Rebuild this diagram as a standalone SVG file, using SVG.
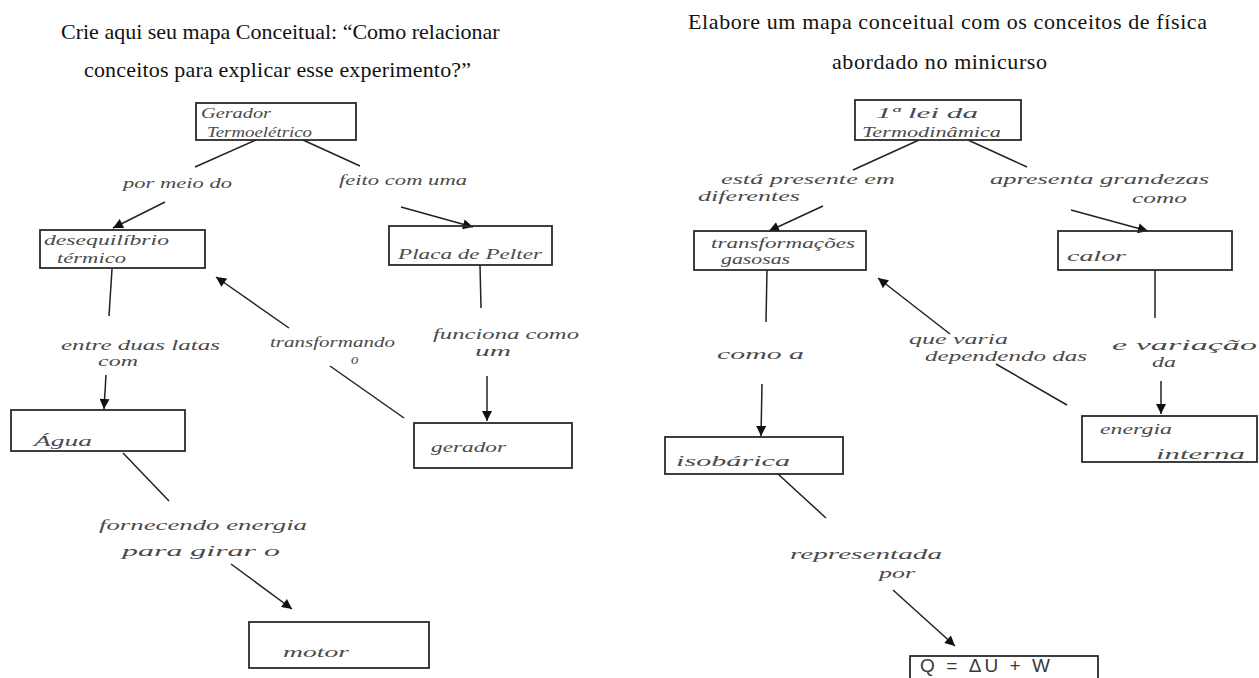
<svg xmlns="http://www.w3.org/2000/svg" width="1259" height="678" viewBox="0 0 1259 678">
<style>
.title{font-family:"Liberation Serif","Times New Roman",serif;font-size:22px;fill:#111;}
.box{fill:none;stroke:#2a2a2a;stroke-width:1.8;}
.hw{font-family:"Liberation Serif",serif;font-style:italic;font-size:15px;fill:#4a4a4a;}
.eq{font-family:"Liberation Sans",sans-serif;font-size:19px;fill:#3a3a3a;}
.ln{stroke:#222;stroke-width:1.5;fill:none;}
.ar{stroke:#222;stroke-width:1.5;fill:none;marker-end:url(#ah);}
</style>
<defs>
<marker id="ah" viewBox="0 0 10 10" refX="10" refY="5" markerWidth="11" markerHeight="10" markerUnits="userSpaceOnUse" orient="auto">
<path d="M0,0 L10,5 L0,10 z" fill="#111"/>
</marker>
</defs>
<rect width="1259" height="678" fill="#fff"/>
<g id="titles">
<text class="title" x="61" y="39">Crie aqui seu mapa Conceitual: “Como relacionar</text>
<text class="title" x="84" y="77" textLength="387" lengthAdjust="spacing">conceitos para explicar esse experimento?”</text>
<text class="title" x="688" y="29" textLength="519" lengthAdjust="spacing">Elabore um mapa conceitual com os conceitos de física</text>
<text class="title" x="832" y="69" textLength="215" lengthAdjust="spacing">abordado no minicurso</text>
</g>
<g id="connectors">
<line class="ln" x1="256" y1="140" x2="195" y2="167"/>
<line class="ln" x1="303" y1="140" x2="360" y2="166"/>
<line class="ar" x1="165" y1="202" x2="113" y2="228"/>
<line class="ar" x1="401" y1="207" x2="473" y2="227"/>
<line class="ln" x1="112" y1="269" x2="109" y2="316"/>
<line class="ar" x1="106" y1="375" x2="104" y2="409"/>
<line class="ln" x1="123" y1="453" x2="169" y2="501"/>
<line class="ar" x1="231" y1="564" x2="292" y2="609"/>
<line class="ln" x1="480" y1="265" x2="481" y2="308"/>
<line class="ar" x1="487" y1="376" x2="487" y2="421"/>
<line class="ln" x1="404" y1="418" x2="330" y2="366"/>
<line class="ar" x1="289" y1="328" x2="216" y2="277"/>
<line class="ln" x1="919" y1="140" x2="853" y2="170"/>
<line class="ln" x1="968" y1="140" x2="1027" y2="167"/>
<line class="ar" x1="823" y1="206" x2="769" y2="231"/>
<line class="ar" x1="1071" y1="210" x2="1148" y2="231"/>
<line class="ln" x1="767" y1="270" x2="766" y2="322"/>
<line class="ar" x1="762" y1="384" x2="761" y2="436"/>
<line class="ln" x1="778" y1="474" x2="826" y2="518"/>
<line class="ar" x1="893" y1="590" x2="955" y2="646"/>
<line class="ln" x1="1155" y1="270" x2="1155" y2="318"/>
<line class="ar" x1="1161" y1="381" x2="1161" y2="414"/>
<line class="ln" x1="1067" y1="405" x2="996" y2="364"/>
<line class="ar" x1="950" y1="334" x2="878" y2="278"/>
<g id="labels">
<text class="hw" x="123" y="188" textLength="109" lengthAdjust="spacingAndGlyphs">por meio do</text>
<text class="hw" x="339" y="185" textLength="128" lengthAdjust="spacingAndGlyphs">feito com uma</text>
<text class="hw" x="61" y="350" textLength="159" lengthAdjust="spacingAndGlyphs">entre duas latas</text>
<text class="hw" x="98" y="366" textLength="40" lengthAdjust="spacingAndGlyphs">com</text>
<text class="hw" x="99" y="530" textLength="208" lengthAdjust="spacingAndGlyphs">fornecendo energia</text>
<text class="hw" x="122" y="556" textLength="158" lengthAdjust="spacingAndGlyphs">para girar o</text>
<text class="hw" x="433" y="339" textLength="146" lengthAdjust="spacingAndGlyphs">funciona como</text>
<text class="hw" x="475" y="356" textLength="36" lengthAdjust="spacingAndGlyphs">um</text>
<text class="hw" x="270" y="347" textLength="125" lengthAdjust="spacingAndGlyphs">transformando</text>
<text class="hw" x="351" y="364">o</text>
<text class="hw" x="721" y="184" textLength="174" lengthAdjust="spacingAndGlyphs">está presente em</text>
<text class="hw" x="698" y="201" textLength="102" lengthAdjust="spacingAndGlyphs">diferentes</text>
<text class="hw" x="990" y="184" textLength="219" lengthAdjust="spacingAndGlyphs">apresenta grandezas</text>
<text class="hw" x="1132" y="203" textLength="55" lengthAdjust="spacingAndGlyphs">como</text>
<text class="hw" x="717" y="359" textLength="87" lengthAdjust="spacingAndGlyphs">como a</text>
<text class="hw" x="790" y="559" textLength="152" lengthAdjust="spacingAndGlyphs">representada</text>
<text class="hw" x="879" y="578" textLength="36" lengthAdjust="spacingAndGlyphs">por</text>
<text class="hw" x="1112" y="350" textLength="145" lengthAdjust="spacingAndGlyphs">e variação</text>
<text class="hw" x="1152" y="367" textLength="24" lengthAdjust="spacingAndGlyphs">da</text>
<text class="hw" x="909" y="344" textLength="99" lengthAdjust="spacingAndGlyphs">que varia</text>
<text class="hw" x="925" y="361" textLength="162" lengthAdjust="spacingAndGlyphs">dependendo das</text>
</g>
</g>
<g id="n-gerador-termoeletrico">
<rect class="box" x="196" y="103" width="160" height="37"/>
<text class="hw" x="201" y="118" textLength="70" lengthAdjust="spacingAndGlyphs">Gerador</text>
<text class="hw" x="207" y="137" textLength="105" lengthAdjust="spacingAndGlyphs">Termoelétrico</text>
</g>
<g id="n-desequilibrio">
<rect class="box" x="40" y="230" width="165" height="38"/>
<text class="hw" x="44" y="245" textLength="125" lengthAdjust="spacingAndGlyphs">desequilíbrio</text>
<text class="hw" x="57" y="263" textLength="69" lengthAdjust="spacingAndGlyphs">térmico</text>
</g>
<g id="n-placa">
<rect class="box" x="389" y="226" width="163" height="39"/>
<text class="hw" x="398" y="259" textLength="144" lengthAdjust="spacingAndGlyphs">Placa de Pelter</text>
</g>
<g id="n-agua">
<rect class="box" x="11" y="410" width="174" height="41"/>
<text class="hw" x="34" y="446" textLength="58" lengthAdjust="spacingAndGlyphs">Água</text>
</g>
<g id="n-gerador">
<rect class="box" x="414" y="423" width="158" height="45"/>
<text class="hw" x="431" y="452" textLength="75" lengthAdjust="spacingAndGlyphs">gerador</text>
</g>
<g id="n-motor">
<rect class="box" x="249" y="622" width="180" height="46"/>
<text class="hw" x="283" y="657" textLength="66" lengthAdjust="spacingAndGlyphs">motor</text>
</g>
<g id="n-primeira-lei">
<rect class="box" x="855" y="100" width="166" height="40"/>
<text class="hw" x="876" y="118" textLength="102" lengthAdjust="spacingAndGlyphs">1ª lei da</text>
<text class="hw" x="862" y="137" textLength="139" lengthAdjust="spacingAndGlyphs">Termodinâmica</text>
</g>
<g id="n-transformacoes">
<rect class="box" x="694" y="231" width="172" height="39"/>
<text class="hw" x="711" y="248" textLength="144" lengthAdjust="spacingAndGlyphs">transformações</text>
<text class="hw" x="721" y="264" textLength="69" lengthAdjust="spacingAndGlyphs">gasosas</text>
</g>
<g id="n-calor">
<rect class="box" x="1058" y="231" width="174" height="39"/>
<text class="hw" x="1067" y="261" textLength="59" lengthAdjust="spacingAndGlyphs">calor</text>
</g>
<g id="n-isobarica">
<rect class="box" x="665" y="437" width="178" height="37"/>
<text class="hw" x="676" y="466" textLength="114" lengthAdjust="spacingAndGlyphs">isobárica</text>
</g>
<g id="n-energia">
<rect class="box" x="1082" y="416" width="175" height="46"/>
<text class="hw" x="1100" y="434" textLength="72" lengthAdjust="spacingAndGlyphs">energia</text>
<text class="hw" x="1156" y="459" textLength="89" lengthAdjust="spacingAndGlyphs">interna</text>
</g>
<g id="n-equacao">
<rect class="box" x="910" y="656" width="188" height="40"/>
<text class="eq" x="920" y="672" textLength="130" lengthAdjust="spacing">Q = ΔU + W</text>
</g>
</svg>
